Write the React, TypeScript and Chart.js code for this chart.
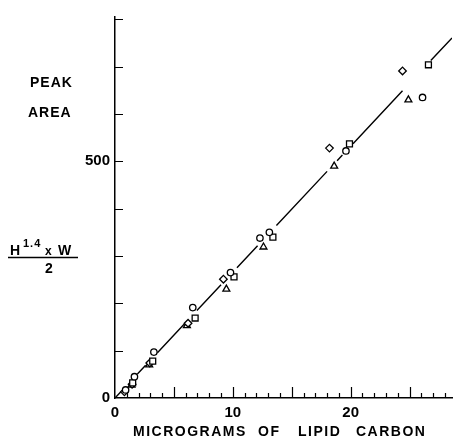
import React, { useEffect, useRef } from 'react';
import { Chart, registerables } from 'chart.js';

Chart.register(...registerables);

// ---- data ----
const circleX = [0.9, 1.65, 3.3, 6.6, 9.8, 12.3, 13.1, 19.6, 26.1];
const circleY = [17, 45, 97, 191, 265, 338, 350, 522, 635];

const squareX = [1.5, 3.2, 6.8, 10.1, 13.4, 19.9, 26.6];
const squareY = [32, 78, 169, 256, 340, 537, 704];

const diamondX = [0.8, 1.45, 2.95, 6.2, 9.2, 18.2, 24.4];
const diamondY = [13, 29, 74, 158, 251, 528, 691];

const triangleX = [1.4, 2.9, 6.1, 9.45, 12.6, 18.6, 24.9];
const triangleY = [27, 70, 153, 230, 319, 490, 630];

// fitted straight line through the origin (slope in area units per microgram)
const fitSlope = 26.6;
// visible pieces of the broken fit line (x ranges)
const fitSegments: [number, number][] = [
  [0, 0.6], [1.9, 2.6], [3.6, 5.9], [6.95, 9.0], [10.35, 12.1],
  [13.7, 18.0], [18.85, 19.3], [20.2, 24.4], [26.8, 28.6],
];

const xTickLabels = [0, 10, 20];
const yTickLabels = [0, 500];
const xMin = 0, xMax = 28.6;
const yMin = 0, yMax = 805;

const FONT = '"Liberation Sans", Arial, Helvetica, sans-serif';

function toPoints(xs: number[], ys: number[]) {
  return xs.map((x, i) => ({ x, y: ys[i] }));
}

function buildFit() {
  const pts: { x: number; y: number | null }[] = [];
  fitSegments.forEach(([a, b], i) => {
    if (i > 0) {
      const prev = fitSegments[i - 1][1];
      pts.push({ x: (prev + a) / 2, y: null });
    }
    pts.push({ x: a, y: fitSlope * a });
    pts.push({ x: b, y: fitSlope * b });
  });
  return pts;
}

const decorPlugin = {
  id: 'decor',
  afterDraw(chart: any) {
    const { ctx, scales } = chart;
    const xs = scales.x;
    const ys = scales.y;
    const x0 = xs.getPixelForValue(0);
    const y0 = ys.getPixelForValue(0);
    ctx.save();
    ctx.strokeStyle = '#000';
    ctx.lineWidth = 1.2;
    ctx.beginPath();
    for (let v = 1; v <= Math.floor(xMax); v++) {
      const px = Math.round(xs.getPixelForValue(v)) + 0.5;
      const len = v % 5 === 0 ? 11 : 5;
      ctx.moveTo(px, y0);
      ctx.lineTo(px, y0 - len);
    }
    for (let v = 100; v <= 800; v += 100) {
      const py = Math.round(ys.getPixelForValue(v)) + 0.5;
      ctx.moveTo(x0, py);
      ctx.lineTo(x0 + 8, py);
    }
    ctx.stroke();

    // y-axis title
    ctx.fillStyle = '#000';
    ctx.textAlign = 'left';
    ctx.textBaseline = 'alphabetic';
    (ctx as any).letterSpacing = '1px';
    ctx.font = `bold 14px ${FONT}`;
    ctx.fillText('PEAK', 30, 87);
    ctx.fillText('AREA', 28, 117);
    ctx.font = `bold 14px ${FONT}`;
    ctx.fillText('H', 10, 255);
    ctx.font = `bold 11px ${FONT}`;
    ctx.fillText('1.4', 23, 247);
    ctx.font = `bold 12px ${FONT}`;
    ctx.fillText('x', 45, 255);
    ctx.font = `bold 14px ${FONT}`;
    ctx.fillText('W', 58, 255);
    ctx.fillText('2', 45, 273);
    ctx.beginPath();
    ctx.lineWidth = 1.3;
    ctx.moveTo(8, 257.5);
    ctx.lineTo(78, 257.5);
    ctx.stroke();

    // x-axis title
    ctx.font = `bold 14px ${FONT}`;
    (ctx as any).letterSpacing = '1.5px';
    const words: [string, number][] = [
      ['MICROGRAMS', 133], ['OF', 258], ['LIPID', 298], ['CARBON', 356],
    ];
    words.forEach(([w, left]) => ctx.fillText(w, left, 436));
    ctx.restore();
  },
};

function scatterSet(label: string, xs: number[], ys: number[], style: string, r: number) {
  return {
    type: 'scatter' as const,
    label,
    data: toPoints(xs, ys),
    pointStyle: style,
    pointRadius: r,
    pointBorderColor: '#000',
    pointBackgroundColor: '#fff',
    pointBorderWidth: 1.3,
    showLine: false,
    order: 1,
  };
}

export default function App() {
  const ref = useRef<HTMLCanvasElement | null>(null);
  useEffect(() => {
    if (!ref.current) return;
    const chart = new Chart(ref.current, {
      type: 'scatter',
      data: {
        datasets: [
          scatterSet('circles', circleX, circleY, 'circle', 3.2),
          scatterSet('squares', squareX, squareY, 'rect', 4.2),
          scatterSet('diamonds', diamondX, diamondY, 'rectRot', 3.8),
          scatterSet('triangles', triangleX, triangleY, 'triangle', 4),
          {
            type: 'line' as const,
            label: 'fit',
            data: buildFit(),
            borderColor: '#000',
            borderWidth: 1.4,
            pointRadius: 0,
            spanGaps: false,
            fill: false,
            order: 2,
          } as any,
        ],
      },
      options: {
        responsive: false,
        animation: false,
        devicePixelRatio: 1,
        layout: { autoPadding: false, padding: { top: 17, right: 1, left: 0, bottom: 0 } },
        plugins: { legend: { display: false }, tooltip: { enabled: false } },
        scales: {
          x: {
            type: 'linear',
            min: xMin,
            max: xMax,
            afterBuildTicks: (s: any) => { s.ticks = xTickLabels.map((v) => ({ value: v })); },
            afterFit: (s: any) => { s.height = 40; },
            grid: { display: false, drawTicks: false },
            border: { display: true, color: '#000', width: 1.5 },
            ticks: {
              color: '#000',
              padding: 6,
              maxRotation: 0,
              font: { family: FONT, size: 15, weight: 'bold' },
            },
          },
          y: {
            type: 'linear',
            min: yMin,
            max: yMax,
            afterBuildTicks: (s: any) => { s.ticks = yTickLabels.map((v) => ({ value: v })); },
            afterFit: (s: any) => { s.width = 115; },
            grid: { display: false, drawTicks: false },
            border: { display: true, color: '#000', width: 1.5 },
            ticks: {
              color: '#000',
              padding: 5,
              font: { family: FONT, size: 15, weight: 'bold' },
            },
          },
        },
      },
      plugins: [decorPlugin],
    });
    return () => chart.destroy();
  }, []);
  return (
    <div style={{ position: 'fixed', left: 0, top: 0, width: 453, height: 438, background: '#fff' }}>
      <canvas ref={ref} width={453} height={438} style={{ display: 'block' }} />
    </div>
  );
}
